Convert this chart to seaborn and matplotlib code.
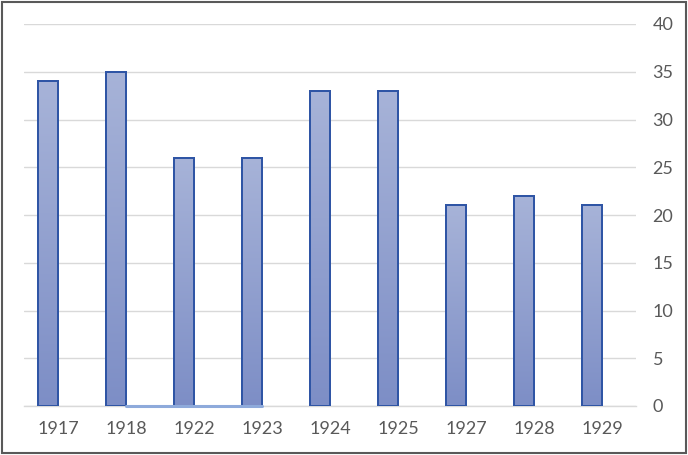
import numpy as np
import pandas as pd
import seaborn as sns
import matplotlib.pyplot as plt
from matplotlib.colors import LinearSegmentedColormap
from matplotlib.patches import Rectangle

# data
years = ['1917', '1918', '1922', '1923', '1924', '1925', '1927', '1928', '1929']
counts = [34, 35, 26, 26, 33, 33, 21, 22, 21]
# second (empty) series: only shows up as a flat line at zero
line_vals = [np.nan, 0, 0, 0, np.nan, np.nan, np.nan, np.nan, np.nan]

sns.set_theme(style='white')
plt.rcParams['font.family'] = ['Lato', 'DejaVu Sans']

df = pd.DataFrame({
    'year': years + years,
    'value': counts + [np.nan] * len(years),
    'series': ['a'] * len(years) + ['b'] * len(years),
})

fig = plt.figure(figsize=(6.88, 4.55), dpi=100)
ax = fig.add_axes([24 / 688, 49 / 455, 612 / 688, 382 / 455])

sns.barplot(data=df, x='year', y='value', hue='series', order=years,
            hue_order=['a', 'b'], width=0.588, dodge=True,
            palette=['#98a6d2', '#98a6d2'], edgecolor='#2f55a5',
            linewidth=1.4, legend=False, ax=ax)

# gradient fill inside each bar
cmap = LinearSegmentedColormap.from_list('g', ['#7d8ec6', '#a7b3d8'])
grad = np.linspace(0, 1, 256).reshape(-1, 1)
for p in list(ax.patches):
    h = p.get_height()
    if not np.isfinite(h) or h <= 0:
        continue
    x0 = p.get_x()
    w = p.get_width()
    im = ax.imshow(grad, cmap=cmap, aspect='auto', origin='lower',
                   extent=[x0, x0 + w, 0, h], zorder=p.get_zorder() - 0.1)
    im.set_clip_path(p)
    p.set_facecolor('none')
    ax.add_patch(Rectangle((x0, 0), w, h, fill=False, edgecolor='#2f55a5',
                           linewidth=1.4, zorder=p.get_zorder() + 0.1))

sns.lineplot(x=list(range(len(years))), y=line_vals, color='#8eaadb',
             linewidth=2.2, ax=ax, zorder=4, clip_on=False)

ax.set_xlim(-0.5, len(years) - 0.5)
ax.set_ylim(0, 40)
ax.set_yticks(range(0, 41, 5))
ax.yaxis.tick_right()
ax.grid(axis='y', color='#d9d9d9', linewidth=1)
ax.set_axisbelow(True)
for s in ['top', 'left', 'right']:
    ax.spines[s].set_visible(False)
ax.spines['bottom'].set_color('#d9d9d9')
ax.spines['bottom'].set_linewidth(1)
ax.spines['bottom'].set_zorder(0.5)
ax.tick_params(axis='both', length=0, labelsize=13, colors='#595959')
ax.tick_params(axis='y', pad=12)
ax.tick_params(axis='x', pad=11)
for t in ax.get_yticklabels():
    t.set_horizontalalignment('left')
ax.set_xlabel('')
ax.set_ylabel('')

fig.patches.append(Rectangle((2 / 688, 2 / 455), 684 / 688, 451 / 455,
                             transform=fig.transFigure, fill=False,
                             edgecolor='#595959', linewidth=1.5))

fig.savefig('out.png', dpi=100)
